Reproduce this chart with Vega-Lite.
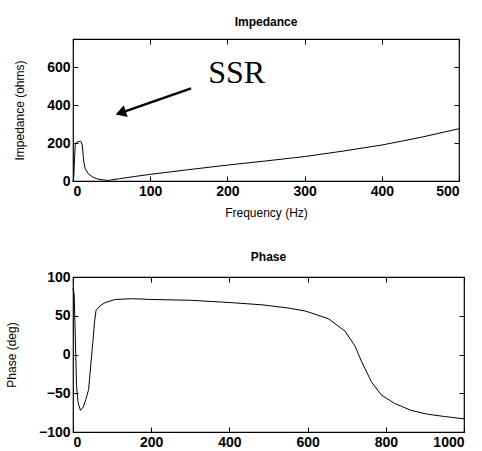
{
  "$schema": "https://vega.github.io/schema/vega-lite/v6.json",
  "padding": {"left": 4, "top": 14, "right": 10, "bottom": 5},
  "background": "white",
  "spacing": 31,
  "datasets": {
    "imp": [
      {"f": 0, "z": 0}, {"f": 1, "z": 20}, {"f": 2, "z": 120}, {"f": 3, "z": 195}, {"f": 5, "z": 205},
      {"f": 8, "z": 208}, {"f": 10, "z": 210}, {"f": 12, "z": 190}, {"f": 14, "z": 100}, {"f": 16, "z": 62},
      {"f": 20, "z": 38}, {"f": 25, "z": 22}, {"f": 30, "z": 13}, {"f": 35, "z": 8}, {"f": 40, "z": 5},
      {"f": 45, "z": 3}, {"f": 50, "z": 6}, {"f": 60, "z": 12}, {"f": 80, "z": 24}, {"f": 100, "z": 35},
      {"f": 150, "z": 60}, {"f": 200, "z": 84}, {"f": 250, "z": 106}, {"f": 300, "z": 129}, {"f": 350, "z": 158},
      {"f": 400, "z": 190}, {"f": 450, "z": 230}, {"f": 500, "z": 276}
    ],
    "phase": [
      {"f": 0, "p": 85}, {"f": 3, "p": 78}, {"f": 6, "p": 20}, {"f": 9, "p": -40}, {"f": 13, "p": -62},
      {"f": 19, "p": -72}, {"f": 26, "p": -68}, {"f": 33, "p": -58}, {"f": 40, "p": -45}, {"f": 46, "p": -10},
      {"f": 51, "p": 17}, {"f": 55, "p": 42}, {"f": 59, "p": 57}, {"f": 70, "p": 63}, {"f": 82, "p": 67},
      {"f": 108, "p": 71}, {"f": 150, "p": 72}, {"f": 200, "p": 71}, {"f": 300, "p": 70}, {"f": 402, "p": 67},
      {"f": 486, "p": 64}, {"f": 550, "p": 60}, {"f": 595, "p": 56}, {"f": 654, "p": 46}, {"f": 696, "p": 30},
      {"f": 721, "p": 11}, {"f": 738, "p": -9}, {"f": 763, "p": -35}, {"f": 788, "p": -52}, {"f": 822, "p": -63},
      {"f": 864, "p": -72}, {"f": 906, "p": -77}, {"f": 950, "p": -80}, {"f": 1000, "p": -83}
    ],
    "label": [{"f": 212, "z": 570, "t": "SSR"}],
    "arrow": [{"f": 153, "z": 489}, {"f": 60, "z": 357}],
    "head": [{"f": 64, "z": 363}]
  },
  "vconcat": [
    {
      "width": 386,
      "height": 142,
      "title": {"text": "Impedance", "offset": 10},
      "resolve": {"axis": {"x": "independent", "y": "independent"}},
      "layer": [
        {
          "data": {"name": "imp"},
          "mark": {"type": "line", "color": "black", "strokeWidth": 1},
          "encoding": {
            "x": {"field": "f", "type": "quantitative", "scale": {"domain": [0, 500], "nice": false}, "axis": {"title": "Frequency (Hz)", "values": [0, 100, 200, 300, 400, 500], "titlePadding": 9}},
            "y": {"field": "z", "type": "quantitative", "scale": {"domain": [0, 750], "nice": false}, "axis": {"title": "Impedance (ohms)", "values": [0, 200, 400, 600], "titlePadding": 20}}
          }
        },
        {
          "data": {"name": "imp"},
          "mark": {"type": "line", "opacity": 0},
          "encoding": {
            "x": {"field": "f", "type": "quantitative", "axis": {"orient": "top", "labels": false, "title": null, "values": [0, 100, 200, 300, 400, 500]}},
            "y": {"field": "z", "type": "quantitative", "axis": {"orient": "right", "labels": false, "title": null, "values": [0, 200, 400, 600]}}
          }
        },
        {
          "data": {"name": "label"},
          "mark": {"type": "text", "font": "Liberation Serif", "fontSize": 32, "color": "black"},
          "encoding": {
            "x": {"field": "f", "type": "quantitative", "axis": null},
            "y": {"field": "z", "type": "quantitative", "axis": null},
            "text": {"field": "t"}
          }
        },
        {
          "data": {"name": "arrow"},
          "mark": {"type": "line", "color": "black", "strokeWidth": 2.5},
          "encoding": {
            "x": {"field": "f", "type": "quantitative", "axis": null},
            "y": {"field": "z", "type": "quantitative", "axis": null}
          }
        },
        {
          "data": {"name": "head"},
          "mark": {"type": "point", "shape": "triangle", "filled": true, "color": "black", "size": 150, "angle": 251, "opacity": 1},
          "encoding": {
            "x": {"field": "f", "type": "quantitative", "axis": null},
            "y": {"field": "z", "type": "quantitative", "axis": null}
          }
        }
      ]
    },
    {
      "width": 391,
      "height": 155,
      "title": {"text": "Phase", "offset": 6},
      "resolve": {"axis": {"x": "independent", "y": "independent"}},
      "layer": [
        {
          "data": {"name": "phase"},
          "mark": {"type": "line", "color": "black", "strokeWidth": 1},
          "encoding": {
            "x": {"field": "f", "type": "quantitative", "scale": {"domain": [0, 1000], "nice": false}, "axis": {"title": null, "values": [0, 200, 400, 600, 800, 1000]}},
            "y": {"field": "p", "type": "quantitative", "scale": {"domain": [-100, 100], "nice": false}, "axis": {"title": "Phase (deg)", "values": [-100, -50, 0, 50, 100], "titlePadding": 20}}
          }
        },
        {
          "data": {"name": "phase"},
          "mark": {"type": "line", "opacity": 0},
          "encoding": {
            "x": {"field": "f", "type": "quantitative", "axis": {"orient": "top", "labels": false, "title": null, "values": [0, 200, 400, 600, 800, 1000]}},
            "y": {"field": "p", "type": "quantitative", "axis": {"orient": "right", "labels": false, "title": null, "values": [-100, -50, 0, 50, 100]}}
          }
        }
      ]
    }
  ],
  "config": {
    "view": {"stroke": "black", "strokeWidth": 1.2},
    "title": {"font": "Liberation Sans", "fontSize": 12, "fontWeight": "bold", "color": "black"},
    "axis": {
      "domain": false,
      "grid": false,
      "ticks": true,
      "tickSize": -5,
      "tickColor": "black",
      "format": "d",
      "labelFont": "Liberation Sans",
      "labelFontSize": 14,
      "labelFontWeight": "bold",
      "labelColor": "black",
      "labelPadding": 8,
      "titleFont": "Liberation Sans",
      "titleFontSize": 12,
      "titleFontWeight": "normal",
      "titleColor": "black"
    }
  }
}
